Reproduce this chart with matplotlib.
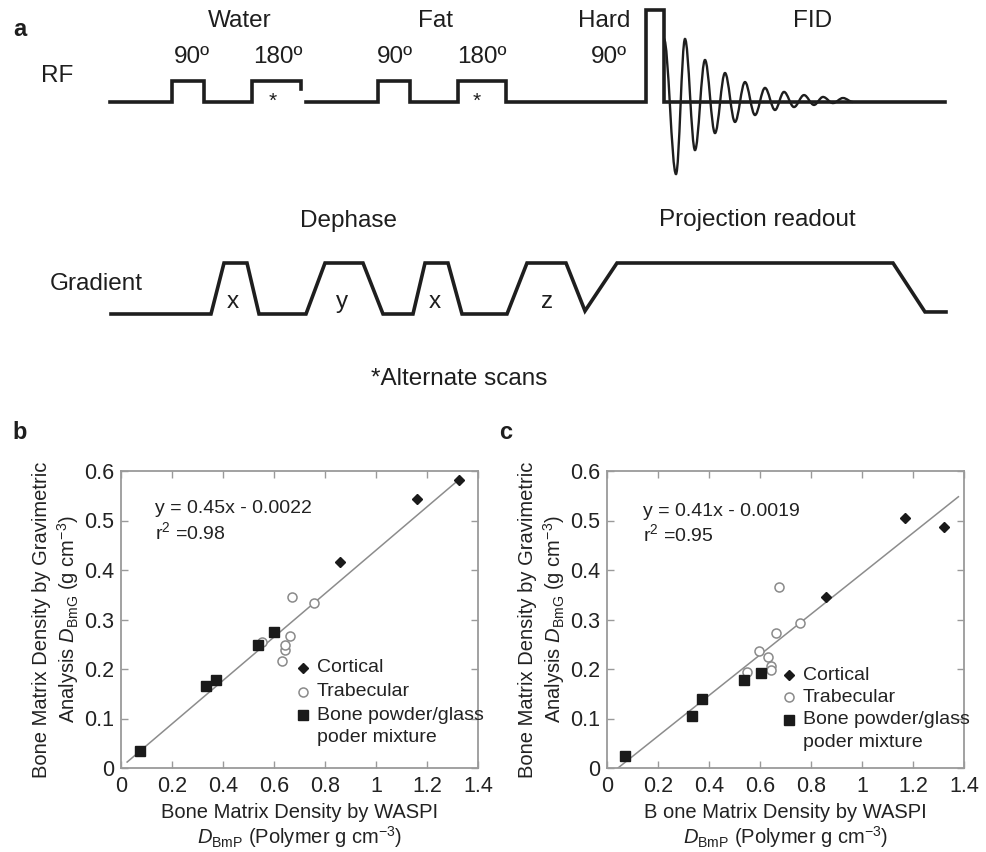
import matplotlib
matplotlib.use("Agg")
import matplotlib.pyplot as plt
from matplotlib.path import Path
from matplotlib.patches import PathPatch

plt.rcParams['font.family'] = ['Liberation Sans', 'DejaVu Sans']
plt.rcParams['mathtext.fontset'] = 'custom'
plt.rcParams['mathtext.rm'] = 'Liberation Sans'
plt.rcParams['mathtext.it'] = 'Liberation Sans:italic'
plt.rcParams['mathtext.bf'] = 'Liberation Sans:bold'

# --- panel a: pulse sequence (time axis in arbitrary units, amplitude in pulse heights)
rf_water_t = [110, 172, 172, 204, 204, 252, 252, 301, 301]
rf_water_a = [0, 0, 1, 1, 0, 0, 1, 1, 0.62]
rf_main_t = [306, 378, 378, 410, 410, 458, 458, 506, 506, 646, 646, 664, 664, 945]
rf_main_a = [0, 0, 1, 1, 0, 0, 1, 1, 0, 0, 4.4, 4.4, 0, 0]
fid_t = [664, 676, 685, 695, 705, 715, 725, 735, 745, 755, 765, 775, 784,
         794, 804, 814, 823, 833, 843, 853]
fid_a = [3.0, -3.43, 3.0, -2.29, 2.0, -1.48, 1.38, -0.95, 0.95, -0.62, 0.67,
         -0.38, 0.48, -0.24, 0.33, -0.14, 0.24, -0.05, 0.19, 0.0]
grad_t = [111, 211, 224, 247, 259, 306, 325, 363, 383, 413, 425, 448, 462,
          507, 527, 566, 585, 617, 893, 925, 946]
grad_a = [0, 0, 1, 1, 0, 0, 1, 1, 0, 0, 1, 1, 0, 0, 1, 1, 0.06, 1, 1, 0.04, 0.04]

# --- panel b: gravimetric vs WASPI (total)
cort_b_x = [0.858, 1.161, 1.324]
cort_b_y = [0.417, 0.543, 0.582]
trab_b_x = [0.553, 0.631, 0.644, 0.644, 0.664, 0.671, 0.756]
trab_b_y = [0.254, 0.216, 0.239, 0.248, 0.266, 0.345, 0.334]
mix_b_x = [0.076, 0.335, 0.374, 0.537, 0.599]
mix_b_y = [0.034, 0.165, 0.177, 0.248, 0.274]
fit_b_x = [0.024, 1.324]
fit_b_y = [0.012, 0.582]

# --- panel c
cort_c_x = [0.858, 1.167, 1.321]
cort_c_y = [0.345, 0.505, 0.486]
trab_c_x = [0.550, 0.597, 0.632, 0.645, 0.645, 0.663, 0.674, 0.756]
trab_c_y = [0.194, 0.236, 0.225, 0.206, 0.198, 0.272, 0.366, 0.292]
mix_c_x = [0.072, 0.334, 0.373, 0.539, 0.602]
mix_c_y = [0.024, 0.105, 0.139, 0.178, 0.191]
fit_c_x = [0.043, 1.378]
fit_c_y = [0.000, 0.548]

xticks = [0, 0.2, 0.4, 0.6, 0.8, 1.0, 1.2, 1.4]
xtick_labels = ['0', '0.2', '0.4', '0.6', '0.8', '1', '1.2', '1.4']
yticks = [0, 0.1, 0.2, 0.3, 0.4, 0.5, 0.6]
ytick_labels = ['0', '0.1', '0.2', '0.3', '0.4', '0.5', '0.6']

W, H = 987, 852
fig = plt.figure(figsize=(W / 100, H / 100), dpi=100)

# ---------------- panel a ----------------
ax = fig.add_axes([0, 1 - 390 / H, 1, 390 / H])
ax.set_xlim(0, W)
ax.set_ylim(390, 0)
ax.axis('off')

ink = '#1e1e1e'
rf_base, rf_unit = 102, 21
gr_base, gr_unit = 314, 51

ax.plot(rf_water_t, [rf_base - a * rf_unit for a in rf_water_a], color=ink, lw=2.6,
        solid_joinstyle='miter')
ax.plot(rf_main_t, [rf_base - a * rf_unit for a in rf_main_a], color=ink, lw=2.6,
        solid_joinstyle='miter')

# FID drawn as smooth bezier arcs through the extrema
verts = [(fid_t[0], rf_base - fid_a[0] * rf_unit)]
codes = [Path.MOVETO]
for i in range(1, len(fid_t)):
    t0, t1 = fid_t[i - 1], fid_t[i]
    y0, y1 = rf_base - fid_a[i - 1] * rf_unit, rf_base - fid_a[i] * rf_unit
    d = (t1 - t0) * 0.36
    verts += [(t0 + d, y0), (t1 - d, y1), (t1, y1)]
    codes += [Path.CURVE4] * 3
ax.add_patch(PathPatch(Path(verts, codes), fill=False, edgecolor=ink, lw=1.7))

ax.plot(grad_t, [gr_base - a * gr_unit for a in grad_a], color=ink, lw=2.6,
        solid_joinstyle='miter')

big = 17.5
ax.text(20, 30, 'a', fontsize=17, fontweight='bold', ha='center', va='center', color=ink)
ax.text(57, 76, 'RF', fontsize=big, ha='center', va='center', color=ink)
ax.text(96, 284, 'Gradient', fontsize=big, ha='center', va='center', color=ink)
for x, s in [(240, 'Water'), (435, 'Fat'), (604, 'Hard'), (813, 'FID')]:
    ax.text(x, 21, s, fontsize=big, ha='center', va='center', color=ink)
for x, s in [(192, '90º'), (278, '180º'), (395, '90º'), (482, '180º'), (609, '90º')]:
    ax.text(x, 57, s, fontsize=big, ha='center', va='center', color=ink)
for x in [273, 477]:
    ax.text(x, 101, '*', fontsize=15, ha='center', va='center', color=ink)
ax.text(348, 221, 'Dephase', fontsize=big, ha='center', va='center', color=ink)
ax.text(757, 220, 'Projection readout', fontsize=big, ha='center', va='center', color=ink)
for x, s in [(233, 'x'), (342, 'y'), (435, 'x'), (547, 'z')]:
    ax.text(x, 302, s, fontsize=big, ha='center', va='center', color=ink)
ax.text(459, 379, '*Alternate scans', fontsize=big, ha='center', va='center', color=ink)


# ---------------- panels b, c ----------------
def scatter_panel(left_px, letter, xlab, eq, r2, cx, cy, tx, ty, mx, my, fx, fy,
                  eq_pos, leg_pos):
    ax = fig.add_axes([left_px / W, (H - 768) / H, 357 / W, 297 / H])
    ax.plot(fx, fy, color='#8c8c8c', lw=1.1, zorder=1)
    ax.plot(tx, ty, 'o', mfc='white', mec='#8a8a8a', mew=1.1, ms=6.5, ls='none', zorder=2)
    ax.plot(mx, my, 's', color='#1a1a1a', ms=7, ls='none', zorder=3)
    ax.plot(cx, cy, 'D', color='#1a1a1a', ms=5, ls='none', zorder=3)
    ax.set_xlim(0, 1.4)
    ax.set_ylim(0, 0.6)
    ax.set_xticks(xticks)
    ax.set_xticklabels(xtick_labels)
    ax.set_yticks(yticks)
    ax.set_yticklabels(ytick_labels)
    ax.tick_params(direction='in', length=5, width=1, color='#9a9a9a', labelcolor='#222222',
                   labelsize=15.5, top=True, right=True)
    ax.tick_params(axis='x', pad=6)
    ax.tick_params(axis='y', pad=5)
    for sp in ax.spines.values():
        sp.set_color('#9a9a9a')
        sp.set_linewidth(1.3)

    ax.set_xlabel(xlab + '\n' + r'$\mathit{D}_{\mathrm{BmP}}$ (Polymer g cm$^{-3}$)',
                  fontsize=14.5, color='#222222', linespacing=1.12)
    ax.xaxis.set_label_coords(0.5, -0.118)
    ax.set_ylabel('Bone Matrix Density by Gravimetric\n' +
                  r'Analysis $\mathit{D}_{\mathrm{BmG}}$ (g cm$^{-3}$)',
                  fontsize=14.5, color='#222222', linespacing=1.2)
    ax.yaxis.set_label_coords(-0.112, 0.5)

    ex, ey1, ey2 = eq_pos
    ax.text(ex, ey1, eq, transform=ax.transAxes, fontsize=14, va='center', color='#222222')
    ax.text(ex, ey2, r2, transform=ax.transAxes, fontsize=14, va='center', color='#222222')

    lmx, ltx, rows = leg_pos
    ax.plot([lmx], [rows[0]], 'D', color='#1a1a1a', ms=5, transform=ax.transAxes, clip_on=False)
    ax.plot([lmx], [rows[1]], 'o', mfc='white', mec='#8a8a8a', mew=1.1, ms=6.5,
            transform=ax.transAxes, clip_on=False)
    ax.plot([lmx], [rows[2]], 's', color='#1a1a1a', ms=7, transform=ax.transAxes, clip_on=False)
    for y, s in zip(rows, ['Cortical', 'Trabecular', 'Bone powder/glass', 'poder mixture']):
        ax.text(ltx, y, s, transform=ax.transAxes, fontsize=14, va='center', color='#222222')

    fig.text((left_px - 101) / W, 1 - 433 / H, letter, fontsize=17, fontweight='bold',
             ha='center', va='center', color='#1e1e1e')
    return ax


scatter_panel(121, 'b', 'Bone Matrix Density by WASPI', 'y = 0.45x - 0.0022', r'r$^2$ =0.98',
              cort_b_x, cort_b_y, trab_b_x, trab_b_y, mix_b_x, mix_b_y, fit_b_x, fit_b_y,
              (0.095, 0.875, 0.795), (0.51, 0.549, [0.337, 0.256, 0.178, 0.104]))
scatter_panel(607, 'c', 'B one Matrix Density by WASPI', 'y = 0.41x - 0.0019', r'r$^2$ =0.95',
              cort_c_x, cort_c_y, trab_c_x, trab_c_y, mix_c_x, mix_c_y, fit_c_x, fit_c_y,
              (0.101, 0.865, 0.788), (0.511, 0.548, [0.313, 0.239, 0.162, 0.0875]))

fig.savefig('out.png', dpi=100)
